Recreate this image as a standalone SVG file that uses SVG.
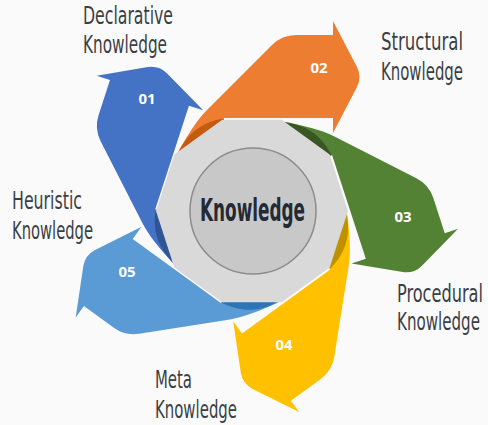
<svg xmlns="http://www.w3.org/2000/svg" xmlns:xlink="http://www.w3.org/1999/xlink" width="488" height="425" viewBox="0 0 488 425">
<style>
.lbl{font-family:'Liberation Sans Narrow','DejaVu Sans Condensed','Liberation Sans',sans-serif;font-size:24px;fill:#3a3f45;}
.end{text-anchor:end;}
.num{font-family:'Open Sans','Liberation Sans',sans-serif;font-size:15px;font-weight:bold;fill:#ffffff;text-anchor:middle;}
.ctr{font-family:'Liberation Sans Narrow','DejaVu Sans Condensed','Liberation Sans',sans-serif;font-size:32px;font-weight:bold;fill:#232a35;text-anchor:middle;}
</style>
<defs>
<path id="band" d="M333,35 L333,21 L357,67 Q362,77 357,87 L333,133 L333,118 L224,118 L210,140 L176,157 L179,150 C188,135 196,121 207,110 L272,45 Q282,35 296,35 Z"/>
<path id="fold" d="M179,152 C186,136 200,122 224,118.5 L224,122 L176,157 Z"/>
</defs>
<rect width="488" height="425" fill="#fafafa"/>
<g id="connectors"/>
<g id="node01">
<use xlink:href="#band" href="#band" fill="#4472c4" transform="rotate(-72 252.5 211)"/>
<use xlink:href="#fold" href="#fold" fill="#2f5597" transform="rotate(-72 252.5 211)"/>
<text class="num" x="147" y="104">01</text>
<text class="lbl" x="83" y="24" textLength="90" lengthAdjust="spacingAndGlyphs">Declarative</text>
<text class="lbl" x="83" y="53" textLength="84" lengthAdjust="spacingAndGlyphs">Knowledge</text>
</g>
<g id="node02">
<use xlink:href="#band" href="#band" fill="#ed7d31"/>
<use xlink:href="#fold" href="#fold" fill="#c55a11"/>
<text class="num" x="319" y="73">02</text>
<text class="lbl end" x="463" y="50" textLength="82" lengthAdjust="spacingAndGlyphs">Structural</text>
<text class="lbl end" x="463" y="80" textLength="82" lengthAdjust="spacingAndGlyphs">Knowledge</text>
</g>
<g id="node03">
<use xlink:href="#band" href="#band" fill="#548235" transform="rotate(72 252.5 211)"/>
<use xlink:href="#fold" href="#fold" fill="#385723" transform="rotate(72 252.5 211)"/>
<text class="num" x="403" y="222">03</text>
<text class="lbl end" x="483" y="302" textLength="86" lengthAdjust="spacingAndGlyphs">Procedural</text>
<text class="lbl end" x="480" y="330" textLength="83" lengthAdjust="spacingAndGlyphs">Knowledge</text>
</g>
<g id="node04">
<use xlink:href="#band" href="#band" fill="#ffc000" transform="rotate(144 252.5 211)"/>
<use xlink:href="#fold" href="#fold" fill="#bf9000" transform="rotate(144 252.5 211)"/>
<text class="num" x="284" y="350">04</text>
<text class="lbl" x="155" y="388" textLength="37" lengthAdjust="spacingAndGlyphs">Meta</text>
<text class="lbl" x="155" y="418" textLength="82" lengthAdjust="spacingAndGlyphs">Knowledge</text>
</g>
<g id="node05">
<use xlink:href="#band" href="#band" fill="#5b9bd5" transform="rotate(-144 252.5 211)"/>
<use xlink:href="#fold" href="#fold" fill="#2e75b6" transform="rotate(-144 252.5 211)"/>
<text class="num" x="127" y="277">05</text>
<text class="lbl" x="12" y="209" textLength="70" lengthAdjust="spacingAndGlyphs">Heuristic</text>
<text class="lbl" x="12" y="239" textLength="81" lengthAdjust="spacingAndGlyphs">Knowledge</text>
</g>
<g id="center">
<polygon points="348,211 329.7,267.4 281.7,302.3 222.3,302.3 174.3,267.4 156,211 174.3,154.6 222.3,119.7 281.7,119.7 329.7,154.6" fill="#d9d9d9"/>
<circle cx="253" cy="211" r="63" fill="#c8c8c8" stroke="#8c8c8c" stroke-width="1.5"/>
<text class="ctr" x="252.5" y="221" textLength="105" lengthAdjust="spacingAndGlyphs">Knowledge</text>
</g>
</svg>
